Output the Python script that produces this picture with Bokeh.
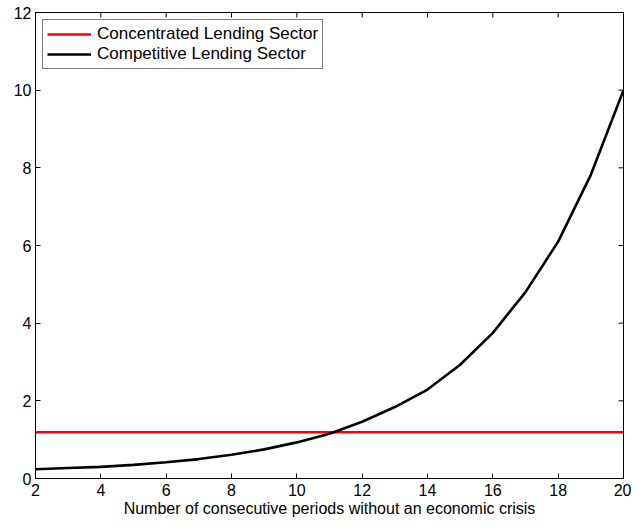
import math
from bokeh.plotting import figure
from bokeh.models import Range1d, FixedTicker, Legend, LegendItem
from bokeh.embed import file_html
from bokeh.resources import INLINE

periods = [2, 3, 4, 5, 6, 7, 8, 9, 10, 11, 12, 13, 14, 15, 16, 17, 18, 19, 20]
competitive = [0.24, 0.27, 0.30, 0.35, 0.42, 0.50, 0.61, 0.75, 0.93, 1.15, 1.46, 1.84, 2.29, 2.93, 3.75, 4.80, 6.10, 7.82, 10.0]
concentrated_level = 1.19
concentrated = [concentrated_level for _ in periods]
x_ticks = [2, 4, 6, 8, 10, 12, 14, 16, 18, 20]
y_ticks = [0, 2, 4, 6, 8, 10, 12]
x_min, x_max = 2, 20
y_min, y_max = 0, 12
x_label = "Number of consecutive periods without an economic crisis"
series_names = ["Concentrated Lending Sector", "Competitive Lending Sector"]

FONT = "Liberation Sans"

p = figure(width=631, height=521, output_backend="svg", toolbar_location=None,
           x_range=Range1d(x_min, x_max), y_range=Range1d(y_min, y_max),
           min_border_left=35, min_border_right=8, min_border_top=12, min_border_bottom=43)
p.background_fill_color = "white"
p.border_fill_color = "white"
p.outline_line_color = "black"
p.outline_line_width = 1
p.grid.visible = False

r1 = p.line(periods, concentrated, line_color="#ff0000", line_width=2.6)
r2 = p.line(periods, competitive, line_color="black", line_width=2.6)

# inward ticks on the top and right edges of the box
p.ray(x=x_ticks, y=[y_max] * len(x_ticks), length=5, length_units="screen",
      angle=-math.pi / 2, line_color="black", line_width=1)
p.ray(x=[x_max] * len(y_ticks), y=y_ticks, length=5, length_units="screen",
      angle=math.pi, line_color="black", line_width=1)

def style_axis(ax, ticks):
    ax.ticker = FixedTicker(ticks=ticks)
    ax.major_tick_in = 5
    ax.major_tick_out = 0
    ax.minor_tick_in = 0
    ax.minor_tick_out = 0
    ax.axis_line_color = "black"
    ax.major_tick_line_color = "black"
    ax.major_label_text_font = FONT
    ax.major_label_text_font_size = "16px"
    ax.major_label_text_color = "black"

style_axis(p.xaxis[0], x_ticks)
style_axis(p.yaxis[0], y_ticks)
p.yaxis[0].major_label_standoff = 4
p.xaxis[0].major_label_standoff = 5
p.xaxis[0].axis_label = x_label
p.xaxis[0].axis_label_text_font = FONT
p.xaxis[0].axis_label_text_font_size = "16px"
p.xaxis[0].axis_label_text_font_style = "normal"
p.xaxis[0].axis_label_text_color = "black"
p.xaxis[0].axis_label_standoff = 1

legend = Legend(items=[LegendItem(label=series_names[0], renderers=[r1]),
                       LegendItem(label=series_names[1], renderers=[r2])],
                location="top_left")
legend.label_text_font = FONT
legend.label_text_font_size = "17px"
legend.label_text_color = "black"
legend.border_line_color = "black"
legend.border_line_width = 1
legend.margin = 7
legend.padding = 4
legend.spacing = 0
legend.glyph_width = 44
legend.label_standoff = 6
legend.label_height = 20
legend.glyph_height = 20
legend.background_fill_alpha = 1
p.add_layout(legend)

open("out.html", "w").write(file_html(p, INLINE))
